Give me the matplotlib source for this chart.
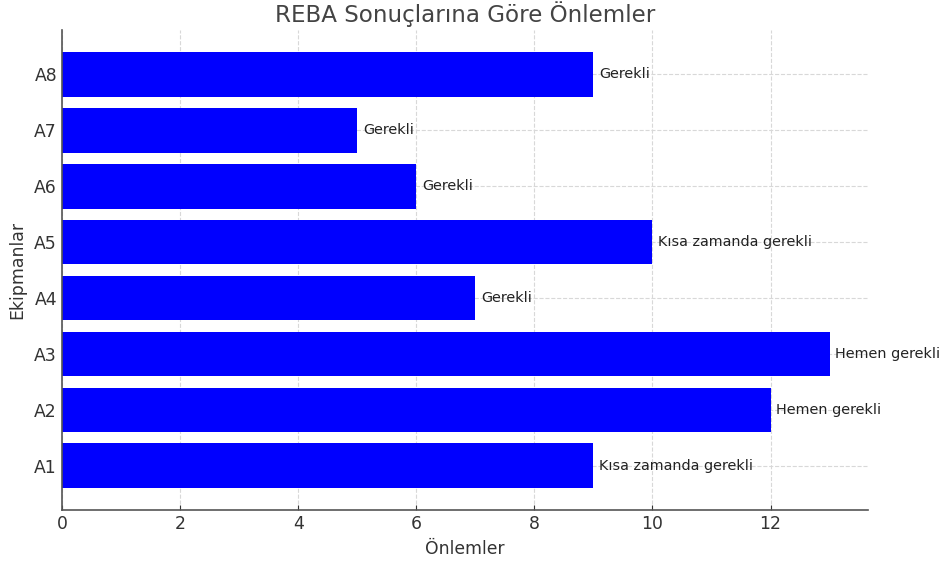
import matplotlib
matplotlib.use("Agg")
import matplotlib.pyplot as plt

equipment = ["A1", "A2", "A3", "A4", "A5", "A6", "A7", "A8"]
scores = [9, 12, 13, 7, 10, 6, 5, 9]
actions = ["Kısa zamanda gerekli", "Hemen gerekli", "Hemen gerekli", "Gerekli",
           "Kısa zamanda gerekli", "Gerekli", "Gerekli", "Gerekli"]

text_color = "#333333"
plt.rcParams["text.color"] = text_color
plt.rcParams["axes.labelcolor"] = text_color
plt.rcParams["xtick.color"] = text_color
plt.rcParams["ytick.color"] = text_color

fig = plt.figure(figsize=(9.46, 5.62), dpi=100)
ax = fig.add_axes([0.0655, 0.0925, 0.852, 0.854])

ax.barh(equipment, scores, color="blue", zorder=2)
for i, (v, a) in enumerate(zip(scores, actions)):
    ax.text(v + 0.1, i, a, va="center", ha="left", fontsize=10.4, color="#222222")

ax.set_title("REBA Sonuçlarına Göre Önlemler", fontsize=16.6, color="#444444")
ax.set_xlabel("Önlemler", fontsize=12.4, labelpad=5)
ax.set_ylabel("Ekipmanlar", fontsize=12.4, labelpad=6)
ax.tick_params(axis="both", direction="in", labelsize=12.4)
ax.grid(True, linestyle="--", color="#d8d8d8", linewidth=0.8, zorder=0)
ax.set_axisbelow(True)
for side in ["top", "right"]:
    ax.spines[side].set_visible(False)
for side in ["left", "bottom"]:
    ax.spines[side].set_color("#555555")
    ax.spines[side].set_linewidth(1.2)

fig.savefig("out.png", dpi=100)
